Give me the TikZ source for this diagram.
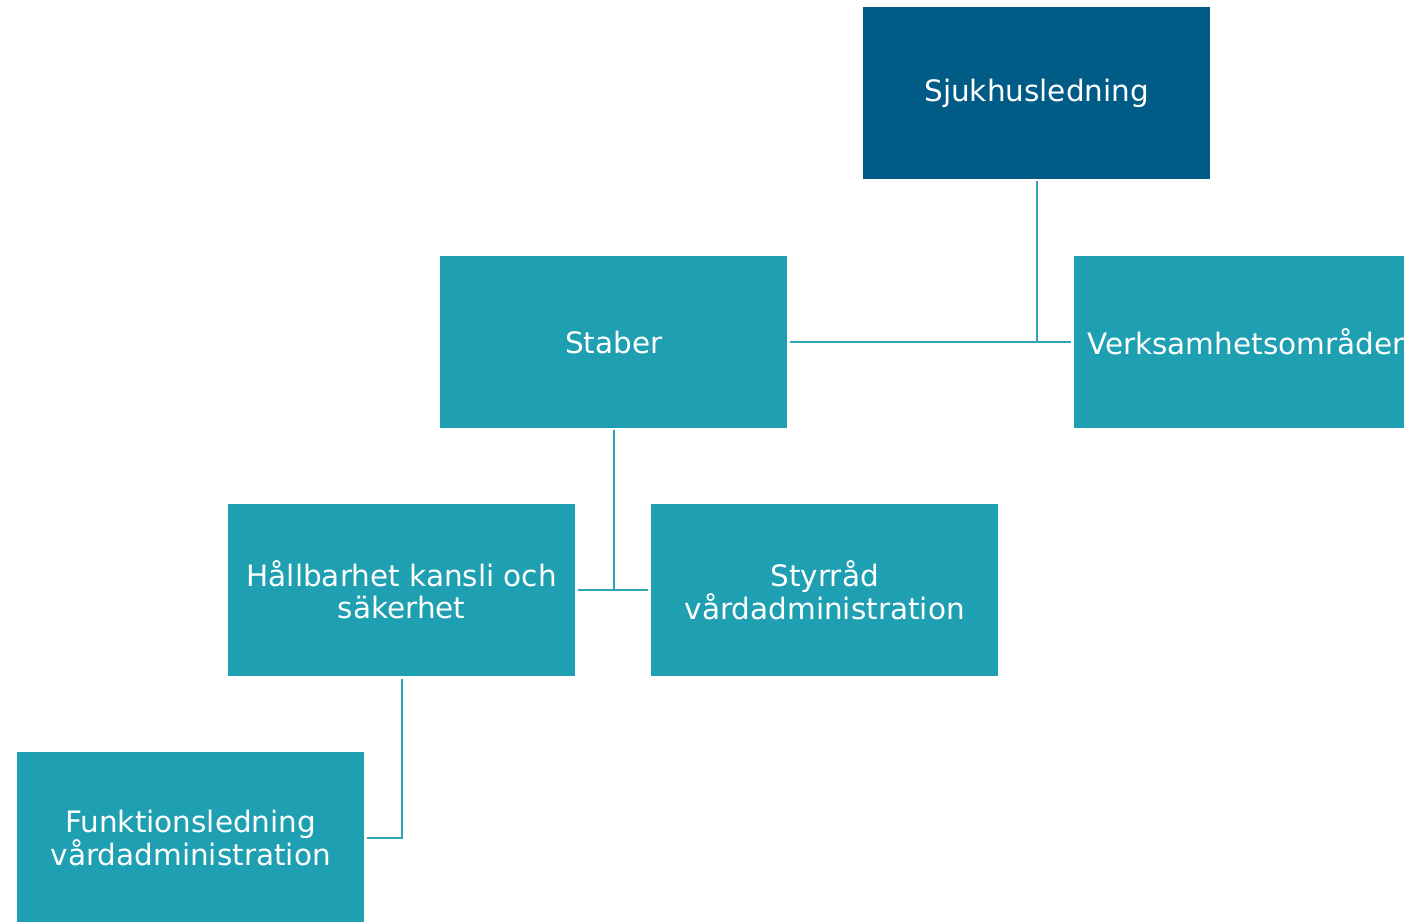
\documentclass[tikz,border=0pt]{standalone}
\usepackage{fontspec}
\setmainfont{DejaVu Sans}
\definecolor{darkblue}{HTML}{005B87}
\definecolor{teal}{HTML}{1E9FB2}
\definecolor{linec}{HTML}{2FA4B6}
\begin{document}
\begin{tikzpicture}[x=1pt,y=-1pt,
  box/.style={fill=teal,draw=none,minimum width=347pt,minimum height=172pt,inner sep=0pt,
    text=white,align=center,font=\fontsize{29.5}{32}\selectfont,anchor=north west},
  topbox/.style={box,fill=darkblue},
  conn/.style={draw=linec,line width=1.6pt}]
\useasboundingbox (0,0) rectangle (1404,921);
\clip (0,0) rectangle (1404,921);
\fill[white] (0,0) rectangle (1404,921);
\node[topbox] (sjuk) at (863,7) {Sjukhusledning};
\node[box,align=left,text width=321pt] (verk) at (1074,256) {Verksamhetsområden};
\node[box] (staber) at (440,256) {Staber};
\node[box] (hall) at (228,504) {Hållbarhet kansli och\\säkerhet};
\node[box] (styr) at (651,504) {Styrråd\\vårdadministration};
\node[box] (funk) at (17,752) {Funktionsledning\\vårdadministration};
\draw[conn,line width=2.2pt] ([yshift=-2pt]sjuk.south) |- ([xshift=-3pt]verk.west);
\draw[conn] ([xshift=3pt]staber.east) -- (sjuk.south |- staber.east);
\draw[conn] ([yshift=-2pt]staber.south) -- (staber.south |- hall.east);
\draw[conn] ([xshift=3pt]hall.east) -- ([xshift=-3pt]styr.west);
\draw[conn,line width=1.8pt] ([yshift=-3pt]hall.south) |- ([xshift=3pt]funk.east);
\end{tikzpicture}
\end{document}
